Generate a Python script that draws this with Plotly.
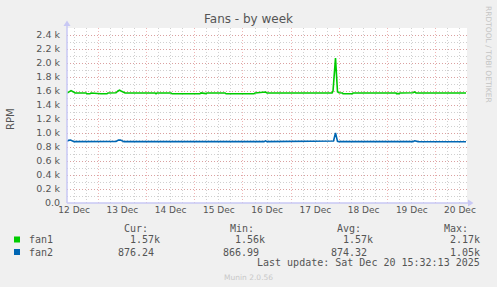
import plotly.graph_objects as go

# ---------------- data ----------------
fan1_times = [
    "2025-12-12 08:25", "2025-12-12 09:40", "2025-12-12 10:25", "2025-12-12 11:25", "2025-12-12 12:24",
    "2025-12-12 17:53", "2025-12-12 18:23", "2025-12-12 19:52", "2025-12-12 20:22",
    "2025-12-13 01:20", "2025-12-13 04:20", "2025-12-13 04:50", "2025-12-13 08:49", "2025-12-13 09:48",
    "2025-12-13 10:33", "2025-12-13 11:18", "2025-12-13 12:17", "2025-12-13 13:17",
    "2025-12-14 04:13", "2025-12-14 04:43", "2025-12-14 05:13", "2025-12-14 12:11", "2025-12-14 12:41",
    "2025-12-15 00:07", "2025-12-15 00:37", "2025-12-15 01:37", "2025-12-15 02:37", "2025-12-15 03:07",
    "2025-12-15 04:36", "2025-12-15 05:36", "2025-12-15 06:06", "2025-12-15 15:05", "2025-12-15 15:35",
    "2025-12-16 05:30", "2025-12-16 06:00", "2025-12-16 10:28", "2025-12-16 11:13", "2025-12-16 11:58",
    "2025-12-17 20:20", "2025-12-17 20:49", "2025-12-17 22:03", "2025-12-17 23:03", "2025-12-17 23:48",
    "2025-12-18 01:32", "2025-12-18 01:47", "2025-12-18 04:16", "2025-12-18 04:46", "2025-12-18 05:16",
    "2025-12-18 06:31", "2025-12-18 06:46",
    "2025-12-19 04:12", "2025-12-19 04:26", "2025-12-19 05:40", "2025-12-19 06:10",
    "2025-12-19 12:37", "2025-12-19 13:22", "2025-12-19 14:07", "2025-12-20 15:00",
]
fan1_values = [
    1570, 1590, 1605, 1590, 1572,
    1572, 1560, 1560, 1572,
    1560, 1560, 1572, 1575, 1600,
    1612, 1600, 1585, 1572,
    1572, 1562, 1572, 1572, 1560,
    1560, 1570, 1562, 1562, 1572,
    1562, 1562, 1572, 1572, 1560,
    1560, 1572, 1575, 1585, 1572,
    1572, 1600, 2070, 1590, 1575,
    1572, 1560, 1560, 1565, 1560,
    1560, 1572,
    1572, 1562, 1562, 1572,
    1575, 1587, 1572, 1572,
]

fan2_times = [
    "2025-12-12 08:25", "2025-12-12 09:12", "2025-12-12 10:10", "2025-12-12 11:10", "2025-12-12 11:55",
    "2025-12-13 08:49", "2025-12-13 10:03", "2025-12-13 11:03", "2025-12-13 12:02", "2025-12-13 12:47",
    "2025-12-16 10:28", "2025-12-16 11:13", "2025-12-16 11:58",
    "2025-12-17 20:34", "2025-12-17 21:04", "2025-12-17 22:03", "2025-12-17 23:03", "2025-12-17 23:48",
    "2025-12-19 12:37", "2025-12-19 13:22", "2025-12-19 14:22", "2025-12-19 15:07", "2025-12-20 15:00",
]
fan2_values = [
    880, 895, 900, 890, 877,
    878, 898, 900, 885, 877,
    877, 888, 877,
    877, 885, 1000, 880, 877,
    877, 888, 887, 877, 876,
]

series_names = ["fan1", "fan2"]
series_colors = ["#00cc00", "#0066b3"]
legend_cur = ["1.57k", "876.24"]
legend_min = ["1.56k", "866.99"]
legend_avg = ["1.57k", "874.32"]
legend_max = ["2.17k", "1.05k"]

y_tickvals = [0, 200, 400, 600, 800, 1000, 1200, 1400, 1600, 1800, 2000, 2200, 2400]
y_ticktext = ["0.0", "0.2 k", "0.4 k", "0.6 k", "0.8 k", "1.0 k", "1.2 k", "1.4 k",
              "1.6 k", "1.8 k", "2.0 k", "2.2 k", "2.4 k"]

title_text = "Fans - by week"
y_title = "RPM"
last_update = "Last update: Sat Dec 20 15:32:13 2025"
side_text = "RRDTOOL / TOBI OETIKER"
footer_text = "Munin 2.0.56"

# ---------------- layout helpers ----------------
W, H = 497, 287
L, R, T, B = 67, 30, 28, 84
PW, PH = W - L - R, H - T - B


def px(x):
    return (x - L) / PW


def py(y):
    return (H - B - y) / PH


TXT = "#555555"
MONO = "DejaVu Sans Mono"
SANS = "DejaVu Sans"

fig = go.Figure()
fig.add_trace(go.Scatter(x=fan1_times, y=fan1_values, mode="lines",
                         line=dict(color=series_colors[0], width=1.6), name="fan1"))
fig.add_trace(go.Scatter(x=fan2_times, y=fan2_values, mode="lines",
                         line=dict(color=series_colors[1], width=1.6), name="fan2"))

ann = []
ann.append(dict(text=title_text, x=px(248), y=py(19), font=dict(family=SANS, size=12, color=TXT)))
ann.append(dict(text=y_title, x=px(10), y=py(119), textangle=-90,
                font=dict(family=SANS, size=10, color=TXT)))
ann.append(dict(text=side_text, x=px(489), y=py(54), textangle=90,
                font=dict(family=SANS, size=7.5, color="#c4c4c4")))
ann.append(dict(text=footer_text, x=px(248), y=py(277),
                font=dict(family=SANS, size=7.5, color="#c8c8c8")))

# legend header
for label, xr in [("Cur:", 150), ("Min:", 256), ("Avg:", 363), ("Max:", 470)]:
    ann.append(dict(text=label, x=px(xr), y=py(228), xanchor="right",
                    font=dict(family=MONO, size=10, color=TXT)))

rows_y = [239.5, 252]
col_right_k = [162, 267, 375, 482]
for i, name in enumerate(series_names):
    ry = rows_y[i]
    ann.append(dict(text=name, x=px(27), y=py(ry), xanchor="left",
                    font=dict(family=MONO, size=10, color=TXT)))
    for j, vals in enumerate([legend_cur, legend_min, legend_avg, legend_max]):
        v = vals[i]
        xr = col_right_k[j] if v.endswith("k") else col_right_k[j] - 6
        ann.append(dict(text=v, x=px(xr), y=py(ry), xanchor="right",
                        font=dict(family=MONO, size=10, color=TXT)))

ann.append(dict(text=last_update, x=px(482), y=py(262.5), xanchor="right",
                font=dict(family=MONO, size=10, color=TXT)))

for a in ann:
    a.setdefault("xanchor", "center")
    a.update(xref="paper", yref="paper", showarrow=False, yanchor="middle")

shapes = []
AX = "#c8c8f4"
# left axis with arrow
shapes.append(dict(type="line", xref="paper", yref="paper", x0=px(67), x1=px(67),
                   y0=py(203), y1=py(25), line=dict(color=AX, width=1.5)))
shapes.append(dict(type="path", xref="paper", yref="paper",
                   path=f"M {px(63.5)},{py(26)} L {px(70.5)},{py(26)} L {px(67)},{py(20.5)} Z",
                   fillcolor=AX, line=dict(width=0)))
# bottom axis with arrow
shapes.append(dict(type="line", xref="paper", yref="paper", x0=px(67), x1=px(469),
                   y0=py(203), y1=py(203), line=dict(color=AX, width=1.5)))
shapes.append(dict(type="path", xref="paper", yref="paper",
                   path=f"M {px(468)},{py(199.5)} L {px(468)},{py(206.5)} L {px(473.5)},{py(203)} Z",
                   fillcolor=AX, line=dict(width=0)))
# legend colour boxes
for i, c in enumerate(series_colors):
    ry = rows_y[i]
    shapes.append(dict(type="rect", xref="paper", yref="paper",
                       x0=px(14), x1=px(20), y0=py(ry - 3), y1=py(ry + 3),
                       fillcolor=c, line=dict(width=0)))

MAJ = "rgba(225,120,120,0.55)"
MIN = "rgba(170,170,170,0.55)"

fig.update_layout(
    width=W, height=H,
    margin=dict(l=L, r=R, t=T, b=B, pad=0),
    paper_bgcolor="#f0f0f0", plot_bgcolor="#ffffff",
    showlegend=False,
    annotations=ann,
    shapes=shapes,
    xaxis=dict(
        type="date",
        range=["2025-12-12 08:25", "2025-12-20 15:30"],
        tick0="2025-12-12", dtick=86400000,
        tickformat="%d %b", ticklabelmode="period",
        showgrid=True, gridcolor=MAJ, griddash="1px,2px", gridwidth=1,
        minor=dict(dtick=21600000, tick0="2025-12-12", showgrid=True, gridcolor=MIN,
                   griddash="1px,2px", gridwidth=1),
        zeroline=False, showline=False, ticks="",
        tickfont=dict(family=SANS, size=9, color=TXT),
        fixedrange=True,
    ),
    yaxis=dict(
        range=[0, 2500],
        tickvals=y_tickvals, ticktext=y_ticktext,
        showgrid=True, gridcolor=MAJ, griddash="1px,2px", gridwidth=1,
        minor=dict(dtick=100, tick0=0, showgrid=True, gridcolor=MIN,
                   griddash="1px,2px", gridwidth=1),
        zeroline=False, showline=False, ticks="",
        ticklabelstandoff=6,
        tickfont=dict(family=SANS, size=9.5, color=TXT),
        fixedrange=True,
    ),
)

fig.write_html("out.html")
